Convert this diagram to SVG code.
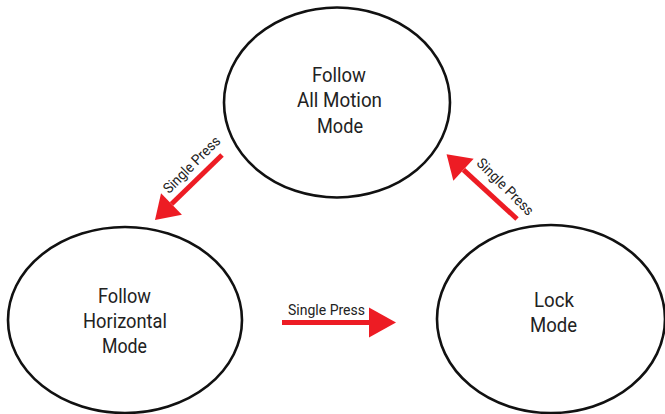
<svg xmlns="http://www.w3.org/2000/svg" width="665" height="414" viewBox="0 0 665 414">
<style>
.node ellipse{fill:#fff;stroke:#111;stroke-width:2.6}
.lbl{font-family:"Roboto","Liberation Sans",sans-serif;font-size:21px;fill:#222;text-anchor:middle}
.edge{stroke:#ED1C24;stroke-width:5;fill:none}
.elbl{font-family:"Roboto","Liberation Sans",sans-serif;font-size:14.5px;fill:#222;text-anchor:middle}
</style>
<defs>
<marker id="headH" markerUnits="userSpaceOnUse" markerWidth="27" markerHeight="30" refX="0" refY="15" orient="auto" overflow="visible"><path d="M0,0 L27,15 L0,30 z" fill="#ED1C24"/></marker>
<marker id="headD" markerUnits="userSpaceOnUse" markerWidth="23" markerHeight="30" refX="0" refY="15" orient="auto" overflow="visible"><path d="M0,0 L23,15 L0,30 z" fill="#ED1C24"/></marker>
</defs>
<rect width="665" height="414" fill="#fff"/>
<g id="allmotion" class="node">
<ellipse cx="337" cy="102.5" rx="113" ry="95"/>
<text class="lbl" x="339" y="82" textLength="54" lengthAdjust="spacingAndGlyphs">Follow</text>
<text class="lbl" x="339.5" y="107" textLength="85" lengthAdjust="spacingAndGlyphs">All Motion</text>
<text class="lbl" x="340" y="133" textLength="46" lengthAdjust="spacingAndGlyphs">Mode</text>
</g>
<g id="horizontal" class="node">
<ellipse cx="125" cy="320" rx="117" ry="93"/>
<text class="lbl" x="124.5" y="303" textLength="53" lengthAdjust="spacingAndGlyphs">Follow</text>
<text class="lbl" x="125" y="328" textLength="84" lengthAdjust="spacingAndGlyphs">Horizontal</text>
<text class="lbl" x="124.5" y="353" textLength="45" lengthAdjust="spacingAndGlyphs">Mode</text>
</g>
<g id="lock" class="node">
<ellipse cx="551" cy="319" rx="114" ry="94"/>
<text class="lbl" x="554" y="307" textLength="40" lengthAdjust="spacingAndGlyphs">Lock</text>
<text class="lbl" x="553.5" y="332" textLength="47" lengthAdjust="spacingAndGlyphs">Mode</text>
</g>
<g id="connectors">
<path class="edge" d="M222,155 L171.5,204" marker-end="url(#headD)"/>
<g transform="translate(192,165) rotate(-45)"><text class="elbl" x="0" y="4.5" textLength="74" lengthAdjust="spacingAndGlyphs">Single Press</text></g>
<path class="edge" d="M282,322.5 L369,322.5" marker-end="url(#headH)"/>
<text class="elbl" x="326.5" y="315" textLength="77" lengthAdjust="spacingAndGlyphs">Single Press</text>
<path class="edge" d="M517,219 L463.5,169.8" marker-end="url(#headD)"/>
<g transform="translate(505,187) rotate(45)"><text class="elbl" x="0" y="4.5" textLength="74" lengthAdjust="spacingAndGlyphs">Single Press</text></g>
</g>
</svg>
